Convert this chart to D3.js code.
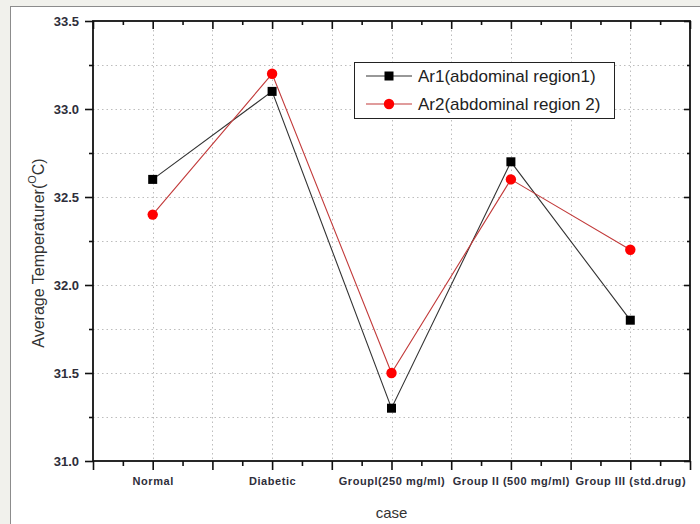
<!DOCTYPE html>
<html>
<head>
<meta charset="utf-8">
<script src="https://cdn.jsdelivr.net/npm/d3@7"></script>
<style>
  html, body { margin: 0; padding: 0; background: #f1f1ec; }
  svg { display: block; }
</style>
</head>
<body>
<svg id="chart" width="700" height="524"></svg>
<script>
const categories = ["Normal", "Diabetic", "Groupl(250 mg/ml)", "Group II (500 mg/ml)", "Group III (std.drug)"];
const ar1Values = [32.6, 33.1, 31.3, 32.7, 31.8];
const ar2Values = [32.4, 33.2, 31.5, 32.6, 32.2];
const seriesNames = ["Ar1(abdominal region1)", "Ar2(abdominal region 2)"];
const yTickLabels = ["31.0", "31.5", "32.0", "32.5", "33.0", "33.5"];

const svg = d3.select("#chart");
const font = "'Liberation Sans', Arial, sans-serif";

// panel
svg.append("rect").attr("x", 10.5).attr("y", 6.5).attr("width", 720).attr("height", 540)
  .attr("fill", "#ffffff").attr("stroke", "#8c8c8c").attr("stroke-width", 1);

const pLeft = 93, pRight = 690, pTop = 21, pBottom = 461;
const x = d3.scaleLinear().domain([0.5, 5.5]).range([pLeft, pRight]);
const y = d3.scaleLinear().domain([31, 33.5]).range([pBottom, pTop]);

const xMajor = d3.range(0.5, 5.51, 0.5);
const xMinor = d3.range(0.75, 5.5, 0.5);
const yMajor = yTickLabels.map(Number);
const yMinor = d3.range(31.25, 33.5, 0.5);

// gridlines
const grid = svg.append("g").attr("stroke", "#bdbdbd").attr("stroke-width", 1).attr("stroke-dasharray", "1.5,3");
xMajor.filter(v => v > 0.5 && v < 5.5).forEach(v => {
  grid.append("line").attr("x1", Math.round(x(v)) + 0.5).attr("x2", Math.round(x(v)) + 0.5).attr("y1", pTop).attr("y2", pBottom);
});
yMajor.concat(yMinor).filter(v => v > 31 && v < 33.5).forEach(v => {
  grid.append("line").attr("y1", Math.round(y(v)) + 0.5).attr("y2", Math.round(y(v)) + 0.5).attr("x1", pLeft).attr("x2", pRight);
});

// axes
const axisColor = "#111";
const fmt = (d) => { const i = yMajor.indexOf(d); return i >= 0 ? yTickLabels[i] : ""; };

const yAxisL = svg.append("g").attr("transform", `translate(${pLeft},0)`)
  .call(d3.axisLeft(y).tickValues(yMajor).tickSize(8).tickFormat(fmt));
const yAxisLMinor = svg.append("g").attr("transform", `translate(${pLeft},0)`)
  .call(d3.axisLeft(y).tickValues(yMinor).tickSize(4).tickFormat(""));
const yAxisR = svg.append("g").attr("transform", `translate(${pRight},0)`)
  .call(d3.axisLeft(y).tickValues(yMajor).tickSize(6).tickFormat(""));
const yAxisRMinor = svg.append("g").attr("transform", `translate(${pRight},0)`)
  .call(d3.axisLeft(y).tickValues(yMinor).tickSize(3).tickFormat(""));

const xAxisB = svg.append("g").attr("transform", `translate(0,${pBottom})`)
  .call(d3.axisBottom(x).tickValues(xMajor).tickSize(9)
    .tickFormat(d => Number.isInteger(d) ? categories[d - 1] : ""));
const xAxisBMinor = svg.append("g").attr("transform", `translate(0,${pBottom})`)
  .call(d3.axisBottom(x).tickValues(xMinor).tickSize(5).tickFormat(""));
const xAxisT = svg.append("g").attr("transform", `translate(0,${pTop})`)
  .call(d3.axisBottom(x).tickValues(xMajor).tickSize(8).tickFormat(""));
const xAxisTMinor = svg.append("g").attr("transform", `translate(0,${pTop})`)
  .call(d3.axisBottom(x).tickValues(xMinor).tickSize(4).tickFormat(""));

[yAxisL, yAxisLMinor, yAxisR, yAxisRMinor, xAxisB, xAxisBMinor, xAxisT, xAxisTMinor].forEach(g => {
  g.select(".domain").remove();
  g.selectAll(".tick line").attr("stroke", axisColor).attr("stroke-width", 1.6);
});

yAxisL.selectAll(".tick text")
  .attr("font-family", font).attr("font-size", 13)
  .attr("font-weight", "bold").attr("fill", "#2e2e3a").attr("x", -14).attr("dy", "0.34em");

xAxisB.selectAll(".tick text")
  .attr("font-family", font).attr("font-size", 11)
  .attr("font-weight", "bold").attr("fill", "#2e2e3a").attr("letter-spacing", 0.55)
  .attr("y", 16).attr("dy", "0.71em");

// frame
svg.append("rect").attr("x", pLeft).attr("y", pTop).attr("width", pRight - pLeft).attr("height", pBottom - pTop)
  .attr("fill", "none").attr("stroke", axisColor).attr("stroke-width", 1.8);

// axis titles
svg.append("text").attr("x", x(3)).attr("y", 518).attr("text-anchor", "middle")
  .attr("font-family", font).attr("font-size", 15)
  .attr("fill", "#333").text("case");

const yt = svg.append("text").attr("transform", `translate(44,253) rotate(-90)`)
  .attr("text-anchor", "middle").attr("font-family", font)
  .attr("font-size", 16).attr("fill", "#333");
yt.append("tspan").text("Average Temperaturer(");
yt.append("tspan").attr("font-size", 11).attr("dy", -8).text("O");
yt.append("tspan").attr("dy", 8).text("C)");

// series
const idx = d3.range(categories.length);
svg.append("path").datum(idx).attr("fill", "none").attr("stroke", "#333").attr("stroke-width", 1.1)
  .attr("d", d3.line().x(i => x(i + 1)).y(i => y(ar1Values[i])));
svg.append("path").datum(idx).attr("fill", "none").attr("stroke", "#c23a3a").attr("stroke-width", 1.1)
  .attr("d", d3.line().x(i => x(i + 1)).y(i => y(ar2Values[i])));

const ms = 9;
svg.append("g").selectAll("rect").data(idx).join("rect")
  .attr("x", i => x(i + 1) - ms / 2).attr("y", i => y(ar1Values[i]) - ms / 2)
  .attr("width", ms).attr("height", ms).attr("fill", "#000");
svg.append("g").selectAll("circle").data(idx).join("circle")
  .attr("cx", i => x(i + 1)).attr("cy", i => y(ar2Values[i])).attr("r", 5.2).attr("fill", "#ff0000");

// legend
const lg = svg.append("g");
lg.append("rect").attr("x", 354.5).attr("y", 62.5).attr("width", 260).attr("height", 56)
  .attr("fill", "#fff").attr("stroke", "#222").attr("stroke-width", 1);
const rows = [
  { name: seriesNames[0], color: "#333", mark: "square" },
  { name: seriesNames[1], color: "#c23a3a", mark: "circle" }
];
rows.forEach((r, i) => {
  const cy = 76 + i * 28;
  lg.append("line").attr("x1", 366).attr("x2", 412).attr("y1", cy).attr("y2", cy)
    .attr("stroke", r.color).attr("stroke-width", 1.1);
  if (r.mark === "square") {
    lg.append("rect").attr("x", 389 - ms / 2).attr("y", cy - ms / 2).attr("width", ms).attr("height", ms).attr("fill", "#000");
  } else {
    lg.append("circle").attr("cx", 389).attr("cy", cy).attr("r", 5.2).attr("fill", "#ff0000");
  }
  lg.append("text").attr("x", 418).attr("y", cy).attr("dy", "0.36em")
    .attr("font-family", font).attr("font-size", 17)
    .attr("fill", "#222").text(r.name);
});
</script>
</body>
</html>
